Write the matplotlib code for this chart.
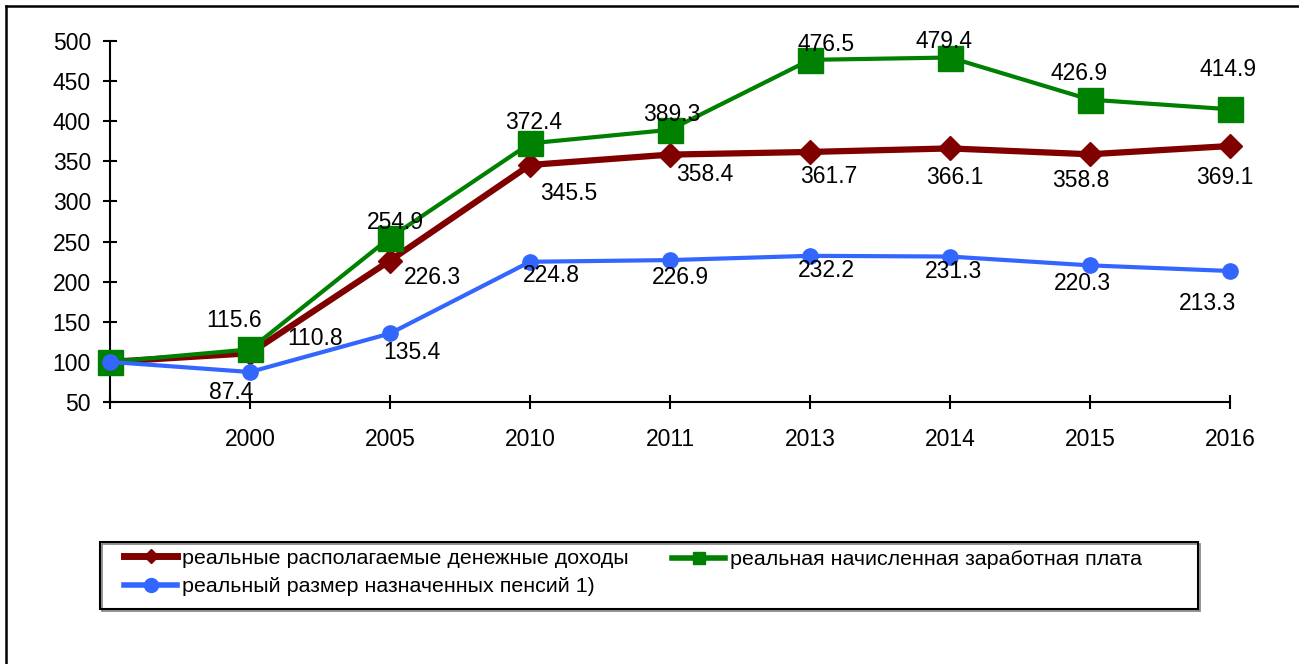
import matplotlib
matplotlib.use('Agg')
import matplotlib.pyplot as plt
from matplotlib.lines import Line2D
from matplotlib.patches import Rectangle

# ---- data ----
categories = ['', '2000', '2005', '2010', '2011', '2013', '2014', '2015', '2016']
income = [100, 110.8, 226.3, 345.5, 358.4, 361.7, 366.1, 358.8, 369.1]
wage = [100, 115.6, 254.9, 372.4, 389.3, 476.5, 479.4, 426.9, 414.9]
pension = [100, 87.4, 135.4, 224.8, 226.9, 232.2, 231.3, 220.3, 213.3]
series_names = ['реальные располагаемые денежные доходы',
                'реальная начисленная заработная плата',
                'реальный размер назначенных пенсий 1)']
y_ticks = [50, 100, 150, 200, 250, 300, 350, 400, 450, 500]

# ---- label offsets (pixels, dx right, dy down) ----
off_income = [None, (65, -16), (42, 15), (39, 27), (35, 18), (19, 23), (5, 27), (-9, 25), (-5, 30)]
off_wage = [None, (-16, -31), (5, -17), (4, -23), (2, -17), (16, -17), (-6, -18), (-11, -28), (-2, -41)]
off_pension = [None, (-19, 19), (22, 17), (21, 12), (10, 16), (16, 13), (3, 13), (-8, 16), (-22, 31)]

plt.rcParams['font.family'] = ['Liberation Sans', 'DejaVu Sans']
FS = 16.5
LFS = 15.4

W, H = 1299, 664
fig = plt.figure(figsize=(W / 100, H / 100), dpi=100)
fig.patch.set_facecolor('white')

ax = fig.add_axes([110 / W, 1 - 402 / H, 1120 / W, 361 / H])
x = list(range(len(categories)))

RED = '#800000'
GREEN = '#008000'
BLUE = '#3366FF'

ax.plot(x, income, color=RED, lw=4.5, marker='D', ms=12.5, clip_on=False, zorder=3)
ax.plot(x, wage, color=GREEN, lw=3, marker='s', ms=18, clip_on=False, zorder=4)
ax.plot(x, pension, color=BLUE, lw=3, marker='o', ms=11, clip_on=False, zorder=5)

CAP = 0.716 * FS * 100 / 72 / 2  # half cap height in px
for vals, offs in ((income, off_income), (wage, off_wage), (pension, off_pension)):
    for i, (v, o) in enumerate(zip(vals, offs)):
        if o is None:
            continue
        ax.annotate(f'{v:.1f}', (i, v), xytext=(o[0], -(o[1] + CAP)),
                    textcoords='offset pixels', ha='center', va='baseline',
                    fontsize=FS, color='black', zorder=10, annotation_clip=False)

ax.set_xlim(0, len(categories) - 1)
ax.set_ylim(50, 500)
ax.set_xticks(x)
ax.set_xticklabels(categories)
ax.set_yticks(y_ticks)
ax.set_yticklabels([str(t) for t in y_ticks])
for s in ('top', 'right'):
    ax.spines[s].set_visible(False)
for s in ('left', 'bottom'):
    ax.spines[s].set_linewidth(1.5)
ax.tick_params(axis='y', direction='inout', length=9.5, width=1.5, pad=9, labelsize=FS)
ax.tick_params(axis='x', direction='inout', length=9.5, width=1.5, pad=14, labelsize=FS)
ax.set_facecolor('white')

# ---- legend ----
h_inc = Line2D([], [], color=RED, lw=5, marker='D', ms=7)
h_wage = Line2D([], [], color=GREEN, lw=4, marker='s', ms=8)
h_pen = Line2D([], [], color=BLUE, lw=4, marker='o', ms=10)
em = LFS * 100 / 72
common = dict(frameon=False, fontsize=LFS, handlelength=53 / em, handletextpad=5 / em,
              borderpad=0, borderaxespad=0, labelspacing=0.45)
fig.legend(handles=[h_inc, h_pen], labels=[series_names[0], series_names[2]],
           loc='center left', bbox_to_anchor=(124 / W, 1 - 572.5 / H), **common)
fig.legend(handles=[h_wage], labels=[series_names[1]],
           loc='center left', bbox_to_anchor=(672 / W, 1 - 559.5 / H), **common)

# legend frame with slight shadow
fig.add_artist(Rectangle((101.5 / W, 1 - 610.5 / H), 1098 / W, 67 / H, transform=fig.transFigure,
                         fill=False, edgecolor='#808080', lw=1.2, zorder=1))
fig.add_artist(Rectangle((100 / W, 1 - 609 / H), 1098 / W, 67 / H, transform=fig.transFigure,
                         fill=False, edgecolor='black', lw=1.5, zorder=2))

# outer frame (left and top visible)
fig.add_artist(Line2D([6 / W, 6 / W], [0, 1 - 6 / H], transform=fig.transFigure, color='black', lw=1.8))
fig.add_artist(Line2D([6 / W, 1], [1 - 6 / H, 1 - 6 / H], transform=fig.transFigure, color='black', lw=1.8))

fig.savefig('out.png', dpi=100, facecolor='white')
